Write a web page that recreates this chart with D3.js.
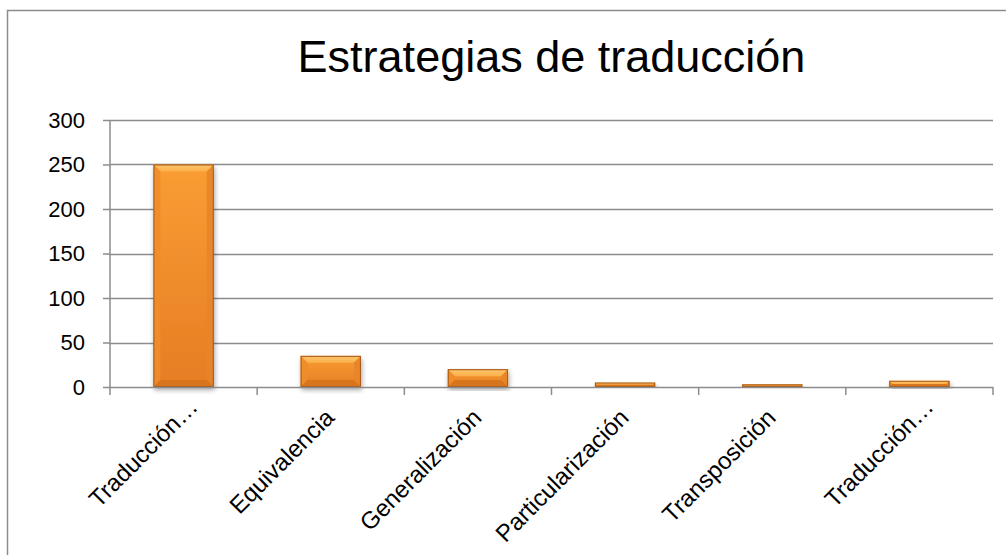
<!DOCTYPE html>
<html>
<head>
<meta charset="utf-8">
<script src="https://cdn.jsdelivr.net/npm/d3@7"></script>
<style>
	body { margin: 0; background: #fff; }
	svg { display: block; font-family: "Liberation Sans", Arial, sans-serif; }
</style>
</head>
<body>
<div id="chart-area"></div>
<script>
// data
const categories = ["Traducción…", "Equivalencia", "Generalización", "Particularización", "Transposición", "Traducción…"];
const values = [250, 35, 20, 5, 3, 7];
const yTicks = [0, 50, 100, 150, 200, 250, 300];
const chartTitle = "Estrategias de traducción";

const W = 1006, H = 555;
let margin = {left: 110, right: 13, top: 120, bottom: 168};
let width = W - margin.left - margin.right;
let height = H - margin.top - margin.bottom;

let svg = d3.select("#chart-area")
	.append("svg")
		.attr("width", W)
		.attr("height", H);

let defs = svg.append("defs");

// bar body gradient
let grad = defs.append("linearGradient")
	.attr("id", "barGrad")
	.attr("x1", 0).attr("y1", 0).attr("x2", 0).attr("y2", 1);
grad.append("stop").attr("offset", "0%").attr("stop-color", "#fa9d33");
grad.append("stop").attr("offset", "100%").attr("stop-color", "#e57d24");

let topGrad = defs.append("linearGradient")
	.attr("id", "topGrad")
	.attr("x1", 0).attr("y1", 0).attr("x2", 0).attr("y2", 1);
topGrad.append("stop").attr("offset", "0%").attr("stop-color", "#fcc46c");
topGrad.append("stop").attr("offset", "100%").attr("stop-color", "#fbb04a");

let shadow = defs.append("filter")
	.attr("id", "shadow")
	.attr("x", "-20%").attr("y", "-20%").attr("width", "140%").attr("height", "140%");
shadow.append("feGaussianBlur").attr("in", "SourceAlpha").attr("stdDeviation", 2.5);
shadow.append("feOffset").attr("dx", 1).attr("dy", 3).attr("result", "ob");
shadow.append("feComponentTransfer").append("feFuncA").attr("type", "linear").attr("slope", 0.35);
let merge = shadow.append("feMerge");
merge.append("feMergeNode");
merge.append("feMergeNode").attr("in", "SourceGraphic");

// chart frame
svg.append("rect")
	.attr("x", 7.5).attr("y", 10.5)
	.attr("width", W + 20).attr("height", H + 20)
	.attr("fill", "none")
	.attr("stroke", "#8c8c8c")
	.attr("stroke-width", 1.5);

// title
svg.append("text")
	.attr("x", margin.left + width / 2)
	.attr("y", 72)
	.attr("text-anchor", "middle")
	.attr("font-size", "45px")
	.attr("fill", "#000")
	.text(chartTitle);

let g = svg.append("g")
	.attr("transform", "translate(" + margin.left + "," + margin.top + ")");

// scales
let x = d3.scaleBand()
	.domain(d3.range(categories.length))
	.range([0, width])
	.paddingInner(0.59)
	.paddingOuter(0.295);

let xTick = d3.scaleLinear()
	.domain([0, categories.length])
	.range([0, width]);

let y = d3.scaleLinear()
	.domain([0, 300])
	.range([height, 0]);

// gridlines
g.append("g")
	.selectAll("line")
	.data(yTicks.filter(d => d > 0))
	.enter()
	.append("line")
		.attr("x1", 0)
		.attr("x2", width)
		.attr("y1", d => Math.round(y(d)) + 0.5)
		.attr("y2", d => Math.round(y(d)) + 0.5)
		.attr("stroke", "#8c8c8c")
		.attr("stroke-width", 1.5);

// Y axis
let yAxis = d3.axisLeft(y)
	.tickValues(yTicks)
	.tickSize(7)
	.tickPadding(18);
let yg = g.append("g")
	.attr("class", "left-axis")
	.call(yAxis);
yg.select(".domain").attr("stroke", "#8c8c8c").attr("stroke-width", 1.5).attr("d", "M0," + height + "V0");
yg.selectAll(".tick line").attr("stroke", "#8c8c8c").attr("stroke-width", 1.5);
yg.selectAll(".tick text")
	.attr("font-size", "22px")
	.attr("font-family", "Liberation Sans, Arial, sans-serif")
	.attr("fill", "#000");

// bars
let bars = g.append("g")
	.selectAll("g.bar")
	.data(values)
	.enter()
	.append("g")
		.attr("class", "bar")
		.attr("filter", "url(#shadow)");

bars.append("rect")
	.attr("x", (d, i) => x(i))
	.attr("y", d => y(d))
	.attr("width", x.bandwidth())
	.attr("height", d => height - y(d))
	.attr("fill", "url(#barGrad)");

// bevel facets
bars.each(function(d, i) {
	let bx = x(i), bw = x.bandwidth();
	let top = y(d), bot = height;
	let h = bot - top;
	let b = Math.min(7, h / 2, bw / 2);
	let sel = d3.select(this);
	// top facet
	sel.append("path")
		.attr("d", d3.line()([[bx + 0.5, top + 0.5], [bx + bw - 0.5, top + 0.5], [bx + bw - b, top + b], [bx + b, top + b]]))
		.attr("fill", "url(#topGrad)");
	// left facet
	sel.append("path")
		.attr("d", d3.line()([[bx + 0.5, top + 0.5], [bx + b, top + b], [bx + b, bot - b], [bx + 0.5, bot - 0.5]]))
		.attr("fill", "#f08c2a")
		.attr("opacity", 0.9);
	// right facet
	sel.append("path")
		.attr("d", d3.line()([[bx + bw - 0.5, top + 0.5], [bx + bw - b, top + b], [bx + bw - b, bot - b], [bx + bw - 0.5, bot - 0.5]]))
		.attr("fill", "#e8842a")
		.attr("opacity", 0.9);
	// bottom facet
	sel.append("path")
		.attr("d", d3.line()([[bx + 0.5, bot - 0.5], [bx + b, bot - b], [bx + bw - b, bot - b], [bx + bw - 0.5, bot - 0.5]]))
		.attr("fill", "#d8741e");
	// outline
	sel.append("rect")
		.attr("x", bx + 0.5).attr("y", top + 0.5)
		.attr("width", bw - 1).attr("height", Math.max(0, h - 1))
		.attr("fill", "none")
		.attr("stroke", "#a65815")
		.attr("stroke-width", 1);
});

// X axis
let xg = g.append("g")
	.attr("class", "bot-axis")
	.attr("transform", "translate(0," + height + ")");
xg.append("line")
	.attr("x1", 0).attr("x2", width)
	.attr("y1", 0.5).attr("y2", 0.5)
	.attr("stroke", "#8c8c8c")
	.attr("stroke-width", 1.5);
xg.selectAll("line.tick")
	.data(d3.range(categories.length + 1))
	.enter()
	.append("line")
		.attr("class", "tick")
		.attr("x1", d => xTick(d)).attr("x2", d => xTick(d))
		.attr("y1", 0).attr("y2", 8)
		.attr("stroke", "#8c8c8c")
		.attr("stroke-width", 1.5);

// truncated labels run a little further along their baseline
xg.selectAll("text")
	.data(categories)
	.enter()
	.append("text")
		.attr("transform", (d, i) => "translate(" + (x(i) + x.bandwidth() / 2 + 5) + ",32) rotate(-45)")
		.attr("dx", d => d.endsWith("…") ? 15 : 0)
		.attr("text-anchor", "end")
		.attr("font-size", "24px")
		.attr("fill", "#000")
		.text(d => d);
</script>
</body>
</html>
